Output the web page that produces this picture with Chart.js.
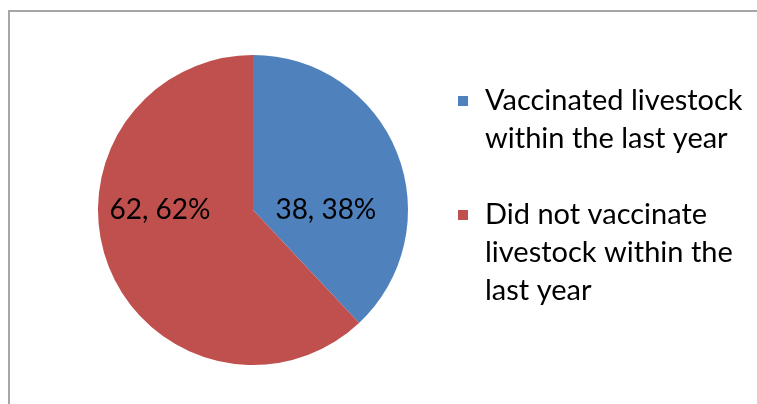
<!DOCTYPE html>
<html>
<head>
<meta charset="utf-8">
<script src="https://cdn.jsdelivr.net/npm/chart.js@4"></script>
<style>
  html, body { margin: 0; padding: 0; background: #ffffff; }
  #wrap { position: relative; width: 757px; height: 404px; }
</style>
</head>
<body>
<div id="wrap"><canvas id="c" width="757" height="404"></canvas></div>
<script>
const categories = ["Vaccinated livestock within the last year", "Did not vaccinate livestock within the last year"];
const legendLines = [["Vaccinated livestock", "within the last year"], ["Did not vaccinate", "livestock within the", "last year"]];
const values = [38, 62];
const percents = [38, 62];
const colors = ["#4F81BD", "#C0504D"];
const FONT = "Lato, 'Open Sans', sans-serif";

const decor = {
  id: 'decor',
  beforeDraw(chart) {
    const ctx = chart.ctx;
    ctx.save();
    ctx.strokeStyle = '#a6a6a6';
    ctx.lineWidth = 2;
    ctx.beginPath();
    ctx.moveTo(9, 404);
    ctx.lineTo(9, 11);
    ctx.lineTo(757, 11);
    ctx.stroke();
    ctx.restore();
  },
  afterDraw(chart) {
    const ctx = chart.ctx;
    const meta = chart.getDatasetMeta(0);
    ctx.save();
    ctx.fillStyle = '#000000';
    ctx.font = "28px " + FONT;
    ctx.textAlign = 'center';
    ctx.textBaseline = 'middle';
    const factors = [0.47, 0.6];
    meta.data.forEach((arc, i) => {
      const mid = (arc.startAngle + arc.endAngle) / 2;
      const dir = Math.cos(mid) >= 0 ? 1 : -1;
      const x = arc.x + dir * arc.outerRadius * factors[i];
      const y = arc.y;
      ctx.fillText(values[i] + ", " + percents[i] + "%", x, y);
    });
    // legend
    const lx = 458, tx = 485;
    let y = 101;
    ctx.textAlign = 'left';
    ctx.font = "29px " + FONT;
    legendLines.forEach((lines, i) => {
      ctx.fillStyle = colors[i];
      ctx.fillRect(lx, y - 5, 10, 10);
      ctx.fillStyle = '#000000';
      lines.forEach((ln, j) => {
        ctx.fillText(ln, tx, y + j * 38);
      });
      y += lines.length * 38 + 38;
    });
    ctx.restore();
  }
};

new Chart(document.getElementById('c'), {
  type: 'pie',
  data: {
    labels: categories,
    datasets: [{ data: values, backgroundColor: colors, borderWidth: 0 }]
  },
  options: {
    responsive: false,
    animation: false,
    layout: { padding: { left: 98, right: 349, top: 55, bottom: 39 } },
    plugins: { legend: { display: false }, tooltip: { enabled: false } }
  },
  plugins: [decor]
});
</script>
</body>
</html>
